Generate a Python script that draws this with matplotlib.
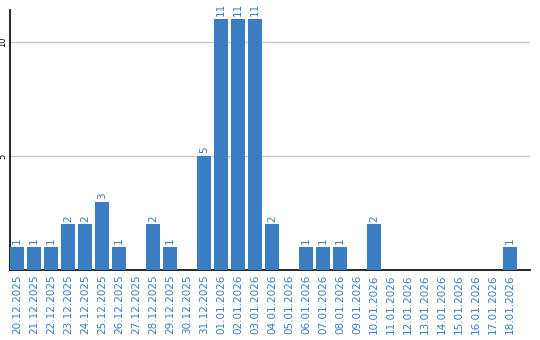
import matplotlib
matplotlib.use("Agg")
import matplotlib.pyplot as plt
import numpy as np

# daily counts
dates = ["20.12.2025", "21.12.2025", "22.12.2025", "23.12.2025", "24.12.2025",
         "25.12.2025", "26.12.2025", "27.12.2025", "28.12.2025", "29.12.2025",
         "30.12.2025", "31.12.2025", "01.01.2026", "02.01.2026", "03.01.2026",
         "04.01.2026", "05.01.2026", "06.01.2026", "07.01.2026", "08.01.2026",
         "09.01.2026", "10.01.2026", "11.01.2026", "12.01.2026", "13.01.2026",
         "14.01.2026", "15.01.2026", "16.01.2026", "17.01.2026", "18.01.2026"]
counts = [1, 1, 1, 2, 2, 3, 1, 0, 2, 1,
          0, 5, 11, 11, 11, 2, 0, 1, 1, 1,
          0, 2, 0, 0, 0, 0, 0, 0, 0, 1]
yticks = [5, 10]

blue = "#3a7dc2"

fig = plt.figure(figsize=(5.4, 3.4), dpi=100)
ax = fig.add_axes([10/540, 70/340, 520/540, 260/340])

x = np.arange(len(dates))
bars = ax.bar(x, counts, width=0.82, color=blue, zorder=3)
for xi, v in zip(x, counts):
    if v > 0:
        ax.text(xi, v + 0.12, str(v), rotation=90, ha="center", va="bottom",
                color=blue, fontsize=7.5)

ax.set_xlim(-0.41, 30.18)
ax.set_ylim(0, 11.4)
ax.set_xticks(x)
ax.set_xticklabels(dates, rotation=90, color=blue, fontsize=7.5)
ax.set_yticks(yticks)
ax.set_yticklabels([str(t) for t in yticks], rotation=90, fontsize=6,
                   va="center", ha="center")
ax.tick_params(axis="both", length=0, pad=3)
ax.tick_params(axis="y", pad=5)
ax.yaxis.grid(True, color="#c8c8c8", linewidth=1, zorder=0)

for s in ["top", "right"]:
    ax.spines[s].set_visible(False)
ax.spines["left"].set_linewidth(1.2)
ax.spines["bottom"].set_linewidth(1.2)

fig.savefig("out.png", dpi=100)
